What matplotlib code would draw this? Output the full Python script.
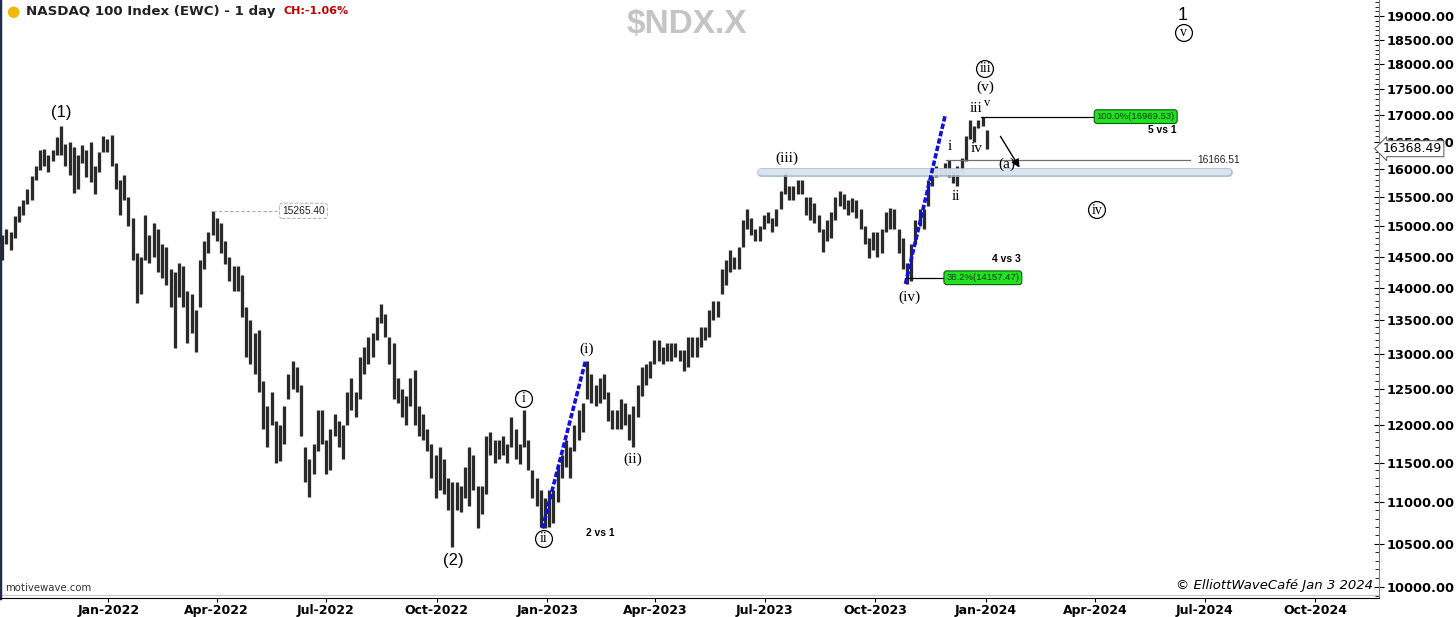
"""NDX daily chart with Elliott wave count (EWC) - Jan 3 2024."""
import datetime as dt

import matplotlib

matplotlib.use("Agg")
import matplotlib.dates as mdates
import matplotlib.pyplot as plt
from matplotlib.ticker import FixedLocator, FuncFormatter, NullFormatter

# ── data: half-week high / low (two bars per week, first Monday = 2021-10-04) ──
first_monday = dt.date(2021, 10, 4)
bar_high = [
    14850, 14950, 14900, 15180, 15350, 15450, 15650, 15870, 16050, 16350,  # Oct-Nov 21
    16370, 16250, 16350, 16580, 16790, 16450, 16500, 16400, 16250, 16430,
    16350, 16500, 16050, 16300, 16600, 16550,                              # Dec 21
    16620, 16100, 15800, 15900, 15500, 15150, 14550, 14500, 15200, 14850,  # Jan-Feb 22
    15050, 14950, 14700, 14650, 14300, 14250, 14400, 14350, 13950, 13900,
    13650, 14450, 14750, 14900, 15265, 15150,                              # Mar 22
    15050, 14750, 14500, 14350, 14350, 14200, 13700, 13500, 13300, 13350,  # Apr-May 22
    12600, 12250, 12450, 12050, 12000, 12250, 12700, 12900, 12800, 12550,
    11700, 11550, 11750, 12200, 12200, 11800, 11950, 12150, 12050, 12000,  # Jun-Jul 22
    12450, 12650, 12450, 12950, 13100, 13250, 13300, 13550, 13740, 13600,
    13250, 13150, 12650, 12500, 12400, 12650, 12760, 12250, 12150, 11950,  # Aug-Sep 22
    11750, 11600, 11700, 11550, 11300, 11250, 11250, 11200, 11450, 11700,  # Sep-Oct 22
    11600, 11200, 11200, 11850, 11900, 11800, 11800, 11850, 11750, 12100,  # Nov 22
    11950, 11750, 12200, 11800, 11400, 11300, 11150, 11050,                # Dec 22
    11150, 11150, 11450, 11600, 11800, 11700, 12000, 12200, 12300, 12900,  # Jan 23
    12700, 12550, 12650, 12700, 12450, 12200, 12200, 12350, 12300, 12150,  # Feb-Mar 23
    12250, 12550, 12800, 12850, 12900, 13200, 13200, 13100, 13150, 13150,
    13150, 13050, 13050, 13250, 13250, 13250, 13400, 13400, 13650, 13800,  # Apr-May 23
    13800, 14300, 14450, 14600, 14500, 14650, 15100, 15300, 15150, 14950,  # May-Jun 23
    15000, 15200, 15250, 15150, 15300, 15600, 15940, 15700, 15700, 15800,  # Jul 23
    15800, 15500, 15500, 15400, 15200, 14950, 15100, 15250, 15500, 15600,  # Aug 23
    15550, 15450, 15480, 15450, 15300, 15000, 14800, 14900, 14900, 14950,  # Sep 23
    15250, 15320, 15300, 14950, 14800, 14400, 14700, 15100, 15300, 15300,  # Oct-Nov 23
    15800, 15900, 16050, 16020, 16100, 16166, 16000, 16050, 16200, 16600,  # Nov-Dec 23
    16900, 16800, 16900, 16970, 16720,
]
bar_low = [
    14450, 14700, 14600, 14800, 15080, 15200, 15380, 15450, 15800, 15980,
    16050, 15950, 16150, 16250, 16250, 16050, 15900, 15580, 15650, 16100,
    15850, 15760, 15550, 15950, 16300, 16300,
    16050, 15650, 15200, 15450, 15000, 14450, 13760, 13900, 14450, 14400,
    14500, 14250, 14150, 14050, 13700, 13080, 13850, 13700, 13150, 13300,
    13030, 13700, 14300, 14550, 14850, 14750,
    14550, 14380, 14100, 13950, 13950, 13550, 12950, 12850, 12700, 12450,
    11950, 11700, 12000, 11500, 11520, 11750, 12350, 12500, 12450, 11850,
    11250, 11060, 11350, 11650, 11750, 11350, 11400, 11850, 11700, 11550,
    12000, 12200, 12100, 12350, 12700, 12850, 12950, 13200, 13450, 13250,
    12850, 12350, 12300, 12100, 12000, 12250, 12000, 11850, 11800, 11650,
    11300, 11050, 11150, 11100, 10900, 10460, 10900, 10880, 11050, 10950,
    11150, 10680, 10850, 11100, 11600, 11500, 11550, 11600, 11500, 11700,
    11550, 11480, 11700, 11400, 11050, 10950, 10700, 10690,
    10700, 10750, 11000, 11300, 11450, 11300, 11650, 11800, 11900, 12350,
    12300, 12250, 12300, 12350, 12050, 11950, 11950, 11950, 12000, 11800,
    11700, 12100, 12400, 12550, 12650, 12850, 12900, 12850, 12900, 12900,
    12950, 12900, 12750, 12800, 12950, 12950, 13100, 13200, 13250, 13500,
    13550, 13900, 14050, 14250, 14300, 14300, 14650, 14950, 14850, 14750,
    14750, 14950, 15050, 14900, 15000, 15300, 15550, 15450, 15450, 15550,
    15550, 15200, 15100, 15050, 14900, 14570, 14750, 14800, 15100, 15350,
    15300, 15200, 15250, 15150, 14950, 14700, 14470, 14600, 14500, 14550,
    14900, 14950, 14950, 14550, 14300, 14060, 14100, 14700, 15000, 14950,
    15350, 15700, 15850, 15900, 15900, 15850, 15750, 15700, 15950, 16150,
    16550, 16500, 16750, 16800, 16360,
]
last_close = 16368.49

# wave projection lines (blue): (date, price) pairs
wave1_dates = ["2022-12-28", "2023-02-02"]
wave1_prices = [10680, 12900]
wave2_dates = ["2023-10-26", "2023-11-28"]
wave2_prices = [14060, 16990]

# fibonacci targets
fib_labels = ["100.0%(16969.53)", "38.2%(14157.47)"]
fib_prices = [16969.53, 14157.47]
fib_start = ["2023-12-28", "2023-10-26"]
fib_box = ["2024-04-01", "2023-11-28"]
fib_notes = ["5 vs 1", "4 vs 3"]

level_price = 16166.51
level_dates = ["2023-11-29", "2024-06-19"]
prior_high = 15265.40
prior_high_dates = ["2022-03-29", "2022-05-21"]
zone_price = 15950
zone_dates = ["2023-06-28", "2024-07-20"]

quarter_dates = ["2022-01-01", "2022-04-01", "2022-07-01", "2022-10-01",
                 "2023-01-01", "2023-04-01", "2023-07-01", "2023-10-01",
                 "2024-01-01", "2024-04-01", "2024-07-01", "2024-10-01"]
quarter_labels = ["Jan-2022", "Apr-2022", "Jul-2022", "Oct-2022",
                  "Jan-2023", "Apr-2023", "Jul-2023", "Oct-2023",
                  "Jan-2024", "Apr-2024", "Jul-2024", "Oct-2024"]
price_ticks = list(range(10000, 19001, 500))
price_minor = list(range(9900, 19301, 100))

# ── layout helpers (pixel -> data, for label placement) ───────────────────────
W, H = 1456, 617
D0 = mdates.date2num(dt.date(2022, 1, 1))


def px_x(x):
    return D0 + (x - 108.3) / 1.2023


def px_y(y):
    return 10 ** (4 + (587 - y) / 2048)


def dn(s):
    return mdates.date2num(dt.date.fromisoformat(s))


fig = plt.figure(figsize=(W / 100, H / 100), dpi=100)
ax = fig.add_axes([0, 1 - 598 / H, 1379 / W, 598 / H])
ax.set_yscale("log")
ax.set_xlim(px_x(0), px_x(1379))
ax.set_ylim(px_y(598), px_y(0))

# price bars
start = mdates.date2num(first_monday)
xs = [start + 7 * (i // 2) + (0.75 if i % 2 == 0 else 4.25) for i in range(len(bar_high))]
ax.vlines(xs, bar_low, bar_high, color="#2a2a2a", linewidth=2.35, zorder=3)

# support zone pill
zx = [dn(d) for d in zone_dates]
ax.plot(zx, [zone_price] * 2, color="#9fb6cc", lw=6.5, solid_capstyle="round", alpha=0.8, zorder=4)
ax.plot(zx, [zone_price] * 2, color="#e3edf5", lw=4.5, solid_capstyle="round", alpha=0.8, zorder=4)

# blue projection lines
for dts, prs in [(wave1_dates, wave1_prices), (wave2_dates, wave2_prices)]:
    ax.plot([dn(d) for d in dts], prs, color="#1010e0", lw=2.6, linestyle=(0, (1.5, 0.6)), zorder=5)

# fib targets
for lab, pr, d0, d1 in zip(fib_labels, fib_prices, fib_start, fib_box):
    ax.plot([dn(d0), dn(d1)], [pr, pr], color="black", lw=0.9, zorder=4)
    ax.text(dn(d1) + 1, pr, lab, fontsize=6.8, family="Liberation Sans", color="#0a3a0a",
            ha="left", va="center", zorder=6,
            bbox=dict(boxstyle="round,pad=0.25,rounding_size=0.3", fc="#22e022", ec="#0b5d0b", lw=0.8))
ax.text(px_x(1176), px_y(130), fib_notes[0], fontsize=7.4, fontweight="bold",
        family="Liberation Sans", ha="right", va="center")
ax.text(px_x(1021), px_y(259), fib_notes[1], fontsize=7.4, fontweight="bold",
        family="Liberation Sans", ha="right", va="center")

# horizontal level 16166.51
ax.plot([dn(d) for d in level_dates], [level_price] * 2, color="#707070", lw=0.9, zorder=4)
ax.text(px_x(1197), level_price, f"{level_price:.2f}", fontsize=7.4, family="Liberation Sans",
        color="#222222", ha="left", va="center")

# prior high 15265.40
ax.plot([dn(d) for d in prior_high_dates], [prior_high] * 2, color="#aaaaaa", lw=0.8,
        linestyle=(0, (3, 2)), zorder=4)
ax.text(px_x(282), prior_high, f"{prior_high:.2f}", fontsize=7.4, family="Liberation Sans",
        color="#222222", ha="left", va="center",
        bbox=dict(boxstyle="round,pad=0.25", fc="white", ec="#b0b0b0", lw=0.7, linestyle="--"))

# arrow toward (a)
ax.annotate("", xy=(px_x(1021), px_y(170)), xytext=(px_x(999), px_y(134)),
            arrowprops=dict(arrowstyle="-|>", color="black", lw=1.0, mutation_scale=12), zorder=6)

# wave labels
serif = "Liberation Serif"
plain = [("(1)", 61, 113, "Liberation Sans", 12), ("(2)", 453, 561, "Liberation Sans", 12),
         ("1", 1183, 15, "Liberation Sans", 13),
         ("(i)", 587, 349, serif, 11), ("(ii)", 633, 459, serif, 11),
         ("(iii)", 787, 158, serif, 11), ("(iv)", 909, 297, serif, 11),
         ("(v)", 985, 87, serif, 11), ("(a)", 1007, 164, serif, 11),
         ("i", 950, 146, serif, 11), ("ii", 956, 197, serif, 11), ("iii", 976, 109, serif, 11),
         ("v", 987, 103, serif, 9), ("iv", 977, 149, serif, 11)]
for txt, x, y, fam, fs in plain:
    ax.text(px_x(x), px_y(y), txt, family=fam, fontsize=fs, ha="center", va="center", zorder=7)

circled = [("i", 524, 399), ("ii", 544, 539), ("iii", 985, 69), ("v", 1184, 33), ("iv", 1097, 210)]
for txt, x, y in circled:
    ax.text(px_x(x), px_y(y), txt, family=serif, fontsize=10, ha="center", va="center", zorder=7,
            bbox=dict(boxstyle="circle,pad=0.14", fc="white", ec="black", lw=0.9))

ax.text(px_x(600), px_y(533), "2 vs 1", fontsize=7.4, fontweight="bold",
        family="Liberation Sans", ha="center", va="center")

# axes styling
ax.spines["top"].set_visible(False)
ax.spines["left"].set_color("#1f2d4d")
ax.spines["left"].set_linewidth(2.5)
ax.spines["right"].set_color("#808080")
ax.spines["bottom"].set_color("black")
ax.axhline(px_y(595), color="#c8c8c8", lw=0.8, zorder=1)

ax.yaxis.tick_right()
ax.yaxis.set_major_locator(FixedLocator(price_ticks))
ax.yaxis.set_major_formatter(FuncFormatter(lambda v, p: f"{v:.2f}"))
ax.yaxis.set_minor_locator(FixedLocator(price_minor))
ax.yaxis.set_minor_formatter(NullFormatter())
ax.tick_params(axis="y", which="major", direction="inout", length=7, width=0.8, labelsize=9.3, pad=2)
ax.tick_params(axis="y", which="minor", direction="in", length=3, width=0.6)
for lbl in ax.get_yticklabels():
    lbl.set_fontweight("bold")

ax.set_xticks([dn(d) for d in quarter_dates])
ax.set_xticklabels(quarter_labels, fontweight="bold", fontsize=9)
ax.tick_params(axis="x", direction="out", length=3, width=0.8, pad=1)

# last price tag (sits over the 16500 label, as on the terminal)
ax.text(1.003, (ax.transScale.transform((0, last_close))[1] - ax.transScale.transform((0, px_y(598)))[1])
        / (ax.transScale.transform((0, px_y(0)))[1] - ax.transScale.transform((0, px_y(598)))[1]),
        f"{last_close:.2f}", transform=ax.transAxes, fontsize=9, family="DejaVu Sans",
        ha="left", va="center", zorder=10, clip_on=False,
        bbox=dict(boxstyle="larrow,pad=0.12", fc="white", ec="#555555", lw=0.7))

# header and footer texts
fig.text(13 / W, 1 - 11 / H, "\u25cf", color="#f5b800", fontsize=11, ha="center", va="center")
fig.text(26 / W, 1 - 12 / H, "NASDAQ 100 Index (EWC) - 1 day", fontsize=9.6, fontweight="bold",
         color="#222222", ha="left", va="center")
fig.text(284 / W, 1 - 11 / H, "CH:-1.06%", fontsize=8, fontweight="bold",
         color="#c00000", ha="left", va="center")
fig.text(687 / W, 1 - 25 / H, "$NDX.X", fontsize=24, fontweight="bold", family="Liberation Sans",
         color="#c4c4c4", ha="center", va="center")
fig.text(5 / W, 1 - 588 / H, "motivewave.com", fontsize=7.3, color="#333333", ha="left", va="center")
fig.text(1373 / W, 1 - 586 / H, "\u00a9 ElliottWaveCaf\u00e9 Jan 3 2024", fontsize=9.5,
         style="italic", color="black", ha="right", va="center")

fig.savefig("out.png", dpi=100)
